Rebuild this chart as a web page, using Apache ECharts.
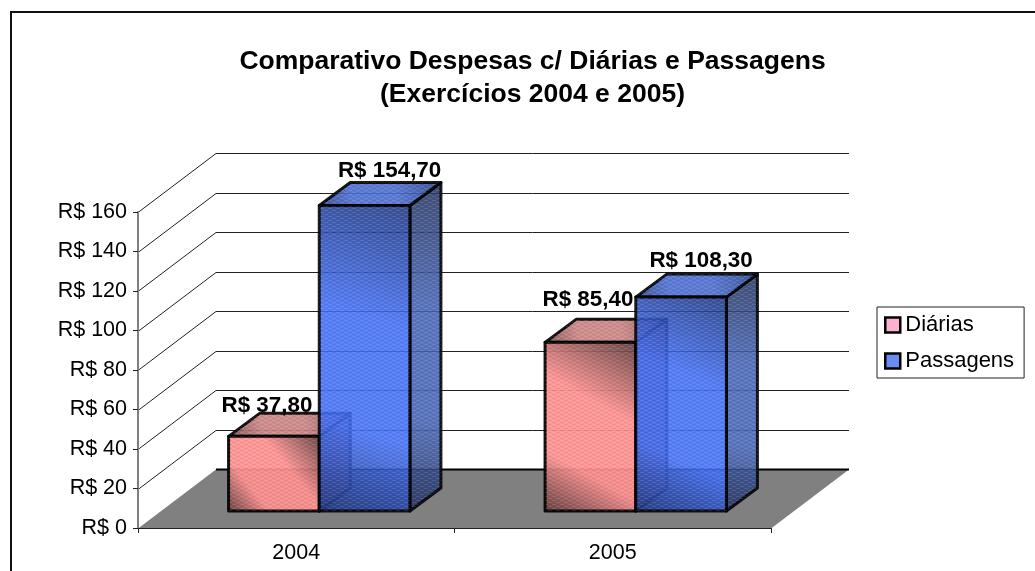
<!DOCTYPE html>
<html><head><meta charset="utf-8">
<style>html,body{margin:0;padding:0;background:#fff}#c{width:1035px;height:571px}</style>
<script src="https://cdn.jsdelivr.net/npm/echarts@6/dist/echarts.min.js"></script>
</head><body><div id="c"></div>
<script>
const categories = ['2004', '2005'];
const diarias = [37.8, 85.4];
const passagens = [154.7, 108.3];
const yTicks = [0, 20, 40, 60, 80, 100, 120, 140, 160];

const FONT = '"Liberation Sans", Arial, sans-serif';
const WALL = [78, -59];          // depth of the chart box
const BASE = [23, -17];          // where the bars' front face sits inside the box
const BAR = [31, -23];           // depth of a bar
const BAR_FRACTION = 0.2865;     // bar width as a share of a category band
const LABEL_NUDGE = {            // label centre relative to the back top edge of the bar
  'Diárias': [[-38, -8], [-33.5, -20]],
  'Passagens': [[-6, -12], [-11, -13]]
};

function patternCanvas() {
  const cv = document.createElement('canvas');
  cv.width = 8; cv.height = 4;
  const g = cv.getContext('2d');
  g.fillStyle = 'rgba(255,255,255,0.10)';
  g.fillRect(0, 0, 4, 1); g.fillRect(4, 2, 4, 1);
  g.fillStyle = 'rgba(0,0,0,0.06)';
  g.fillRect(4, 0, 4, 1); g.fillRect(0, 2, 4, 1);
  return cv;
}
const pat = { image: patternCanvas(), repeat: 'repeat' };

function diag(dark, bright) {
  return new echarts.graphic.LinearGradient(0, 1, 1, 0, [
    { offset: 0, color: dark }, { offset: 0.28, color: bright },
    { offset: 0.62, color: bright }, { offset: 1, color: dark }
  ]);
}
const STYLES = {
  'Diárias': {
    front: diag('#5c3a3a', '#ff8f8f'), frontOp: 0.93,
    top: diag('#7a4a4a', '#c98080'), side: '#8f5a5a', sideOp: 0.85,
    legend: '#ffb0d0'
  },
  'Passagens': {
    front: diag('#1d3680', '#3f6cf5'), frontOp: 0.88,
    top: diag('#2a4288', '#4a6cd0'), side: diag('#26345f', '#4362b4'), sideOp: 0.88,
    legend: '#6a8cf0'
  }
};

function wallRender(params, api) {
  const cs = params.coordSys;
  const v = api.value(1);
  const y = Math.round(api.coord([0, v])[1]) + 0.5;
  const x0 = cs.x, x1 = cs.x + WALL[0], x2 = cs.x + cs.width + WALL[0];
  const children = [];
  if (v === 0) {
    children.push({
      type: 'polygon',
      shape: { points: [[cs.x, y], [cs.x + cs.width, y], [x2, y + WALL[1]], [x1, y + WALL[1]]] },
      style: { fill: '#808080' }
    });
    children.push({ type: 'line', shape: { x1: x1, y1: y + WALL[1], x2: x2, y2: y + WALL[1] }, style: { stroke: '#000', lineWidth: 2 } });
  } else {
    children.push({ type: 'line', shape: { x1: x1, y1: y + WALL[1], x2: x2, y2: y + WALL[1] }, style: { stroke: '#222', lineWidth: 1 } });
    children.push({ type: 'line', shape: { x1: x0, y1: y, x2: x1, y2: y + WALL[1] }, style: { stroke: '#222', lineWidth: 1 } });
  }
  return { type: 'group', children: children };
}

function barRender(seriesIndex, name) {
  return function (params, api) {
    const i = api.value(0);
    const val = api.value(1);
    const st = STYLES[name];
    const c0 = api.coord([i, 0]);
    const c1 = api.coord([i, val]);
    const band = api.size([1, 0])[0];
    const w = band * BAR_FRACTION;
    const cx = c0[0] + BASE[0];
    const xL = seriesIndex === 0 ? cx - w : cx;
    const xR = xL + w;
    const yB = c0[1] + BASE[1];
    const yT = c1[1] + BASE[1];
    const dx = BAR[0], dy = BAR[1];
    const edge = { stroke: '#000', lineWidth: 3, lineJoin: 'round' };
    const poly = function (pts, fill, op) {
      return { type: 'polygon', shape: { points: pts }, style: Object.assign({ fill: fill, opacity: op === undefined ? 1 : op }, edge) };
    };
    const tex = function (pts) {
      return { type: 'polygon', shape: { points: pts }, silent: true, style: { fill: pat, stroke: null } };
    };
    const sidePts = [[xR, yT], [xR + dx, yT + dy], [xR + dx, yB + dy], [xR, yB]];
    const topPts = [[xL, yT], [xL + dx, yT + dy], [xR + dx, yT + dy], [xR, yT]];
    const frontPts = [[xL, yT], [xR, yT], [xR, yB], [xL, yB]];
    const nudge = LABEL_NUDGE[name][i];
    return {
      type: 'group',
      children: [
        poly(sidePts, st.side, st.sideOp), tex(sidePts),
        poly(topPts, st.top, 0.9), tex(topPts),
        poly(frontPts, st.front, st.frontOp), tex(frontPts)
      ].concat([{
        type: 'text', z2: 100,
        style: {
          x: (xL + xR) / 2 + dx + nudge[0], y: yT + dy + nudge[1],
          text: 'R$ ' + val.toFixed(2).replace('.', ','),
          font: 'bold 22.4px ' + FONT, fill: '#000', align: 'center', verticalAlign: 'middle'
        }
      }])
    };
  };
}

const chart = echarts.init(document.getElementById('c'), null, { renderer: 'canvas' });
chart.setOption({
  animation: false,
  backgroundColor: '#fff',
  title: {
    text: 'Comparativo Despesas c/ Diárias e Passagens\n(Exercícios 2004 e 2005)',
    left: 527.5, top: 40, textAlign: 'center',
    textStyle: { fontFamily: FONT, fontSize: 26.5, fontWeight: 'bold', color: '#000', lineHeight: 33 }
  },
  graphic: [{
    type: 'polyline', silent: true, z: 0,
    shape: { points: [[11, 571], [11, 12], [1035, 12]] },
    style: { stroke: '#111', lineWidth: 2, fill: null }
  }],
  legend: {
    orient: 'vertical', left: 877, top: 307,
    padding: [7, 10, 6, 7], itemGap: 14, itemWidth: 15, itemHeight: 15,
    backgroundColor: '#fff', borderColor: '#222', borderWidth: 1,
    textStyle: { fontFamily: FONT, fontSize: 22, color: '#000' },
    itemStyle: { borderColor: '#000', borderWidth: 2 },
    data: [
      { name: 'Diárias', icon: 'rect', itemStyle: { color: STYLES['Diárias'].legend, borderColor: '#000', borderWidth: 2.5 } },
      { name: 'Passagens', icon: 'rect', itemStyle: { color: STYLES['Passagens'].legend, borderColor: '#000', borderWidth: 2.5 } }
    ]
  },
  grid: { left: 138, top: 212, width: 633, height: 316, containLabel: false },
  xAxis: {
    type: 'category', data: categories, z: 10,
    axisLine: { lineStyle: { color: '#222', width: 1 } },
    axisTick: { show: true, length: 5, alignWithLabel: false, lineStyle: { color: '#222' } },
    axisLabel: { fontFamily: FONT, fontSize: 21.5, color: '#000', margin: 14 },
    splitLine: { show: false }
  },
  yAxis: {
    type: 'value', min: 0, max: 160, interval: 20, z: 10,
    axisLine: { show: true, lineStyle: { color: '#808080', width: 2 } },
    axisTick: { show: true, length: 5, lineStyle: { color: '#222' } },
    axisLabel: { fontFamily: FONT, fontSize: 21.5, color: '#000', margin: 11, padding: [5, 0, 0, 0], formatter: function (v) { return 'R$ ' + v; } },
    splitLine: { show: false }
  },
  series: [
    {
      type: 'custom', name: 'walls', z: 1, silent: true, clip: false,
      renderItem: wallRender, encode: { x: 0, y: 1 },
      data: yTicks.map(function (v) { return [0, v]; })
    },
    {
      type: 'custom', name: 'Diárias', z: 2, clip: false,
      itemStyle: { color: STYLES['Diárias'].legend },
      renderItem: barRender(0, 'Diárias'), encode: { x: 0, y: 1 },
      data: diarias.map(function (v, i) { return [i, v]; })
    },
    {
      type: 'custom', name: 'Passagens', z: 3, clip: false,
      itemStyle: { color: STYLES['Passagens'].legend },
      renderItem: barRender(1, 'Passagens'), encode: { x: 0, y: 1 },
      data: passagens.map(function (v, i) { return [i, v]; })
    }
  ]
});
</script></body></html>
